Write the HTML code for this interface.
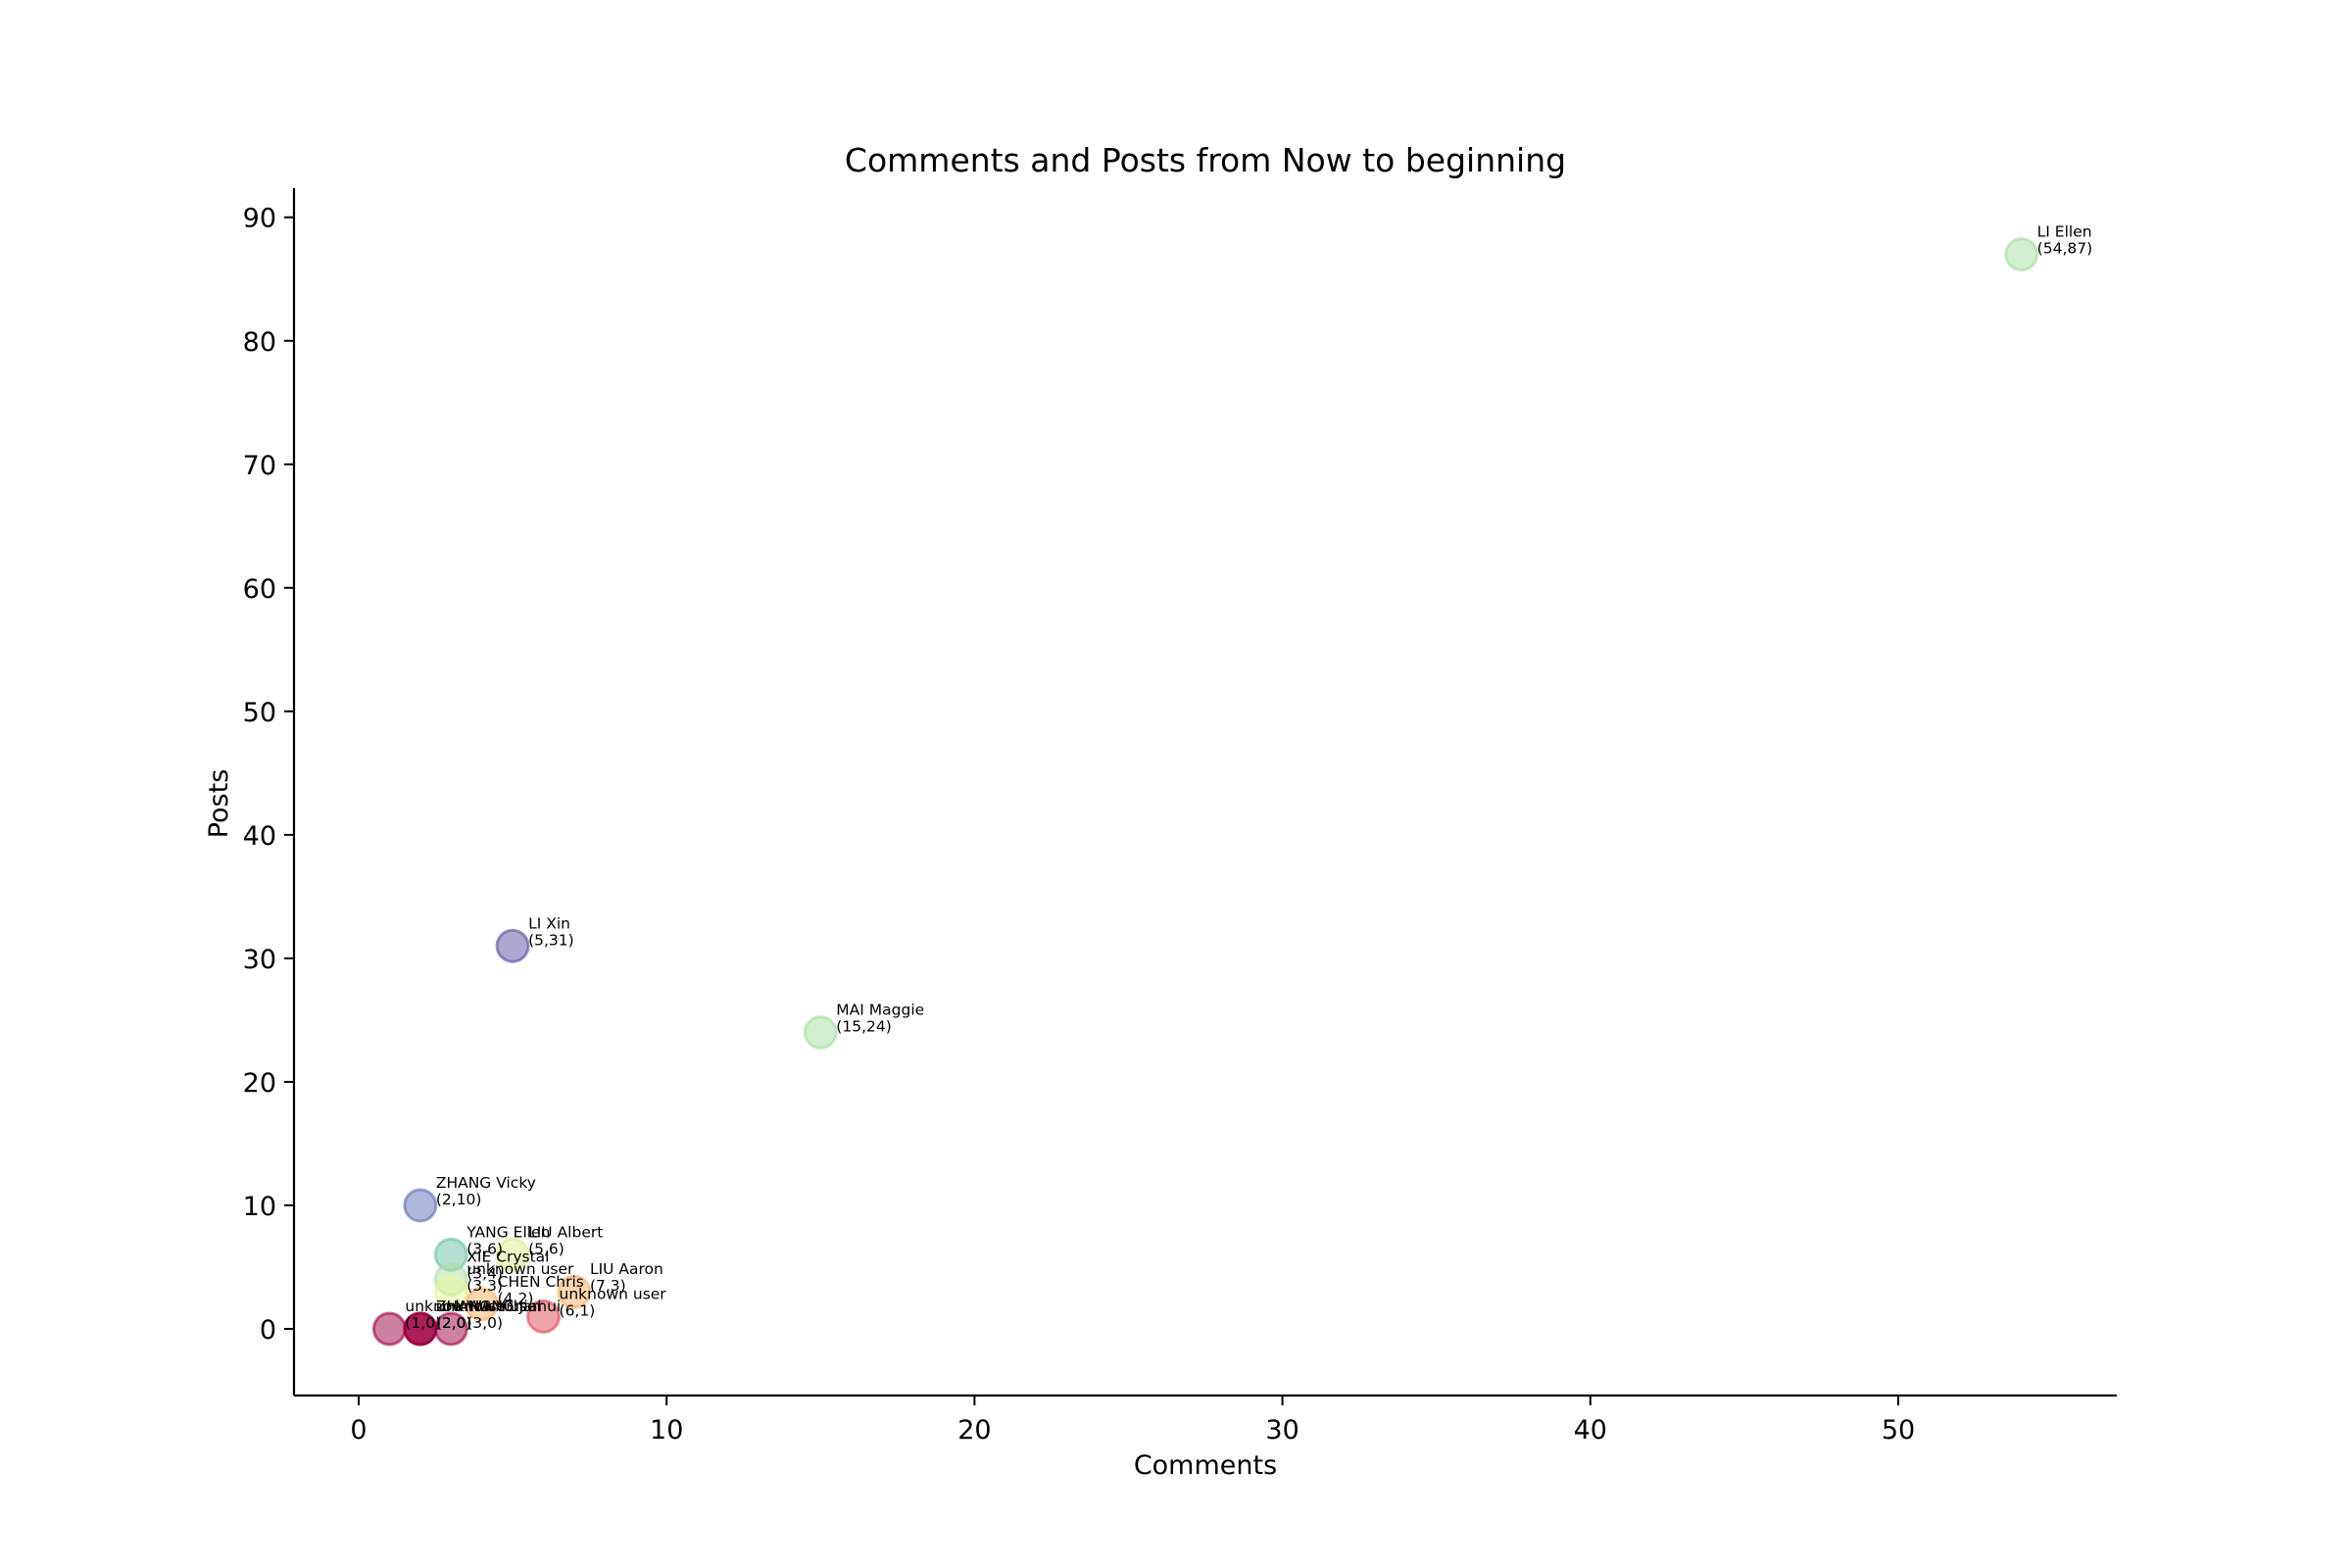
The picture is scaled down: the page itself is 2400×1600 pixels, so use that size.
<!DOCTYPE html>
<html><head><meta charset="utf-8"><style>
html,body{margin:0;padding:0;background:#fff;}
svg{display:block;font-family:"DejaVu Sans","Liberation Sans",sans-serif;}
</style></head><body>
<svg id="chart" width="2400" height="1600" viewBox="0 0 2400 1600" xmlns="http://www.w3.org/2000/svg">
<rect width="2400" height="1600" fill="#fff"/>
<text x="1230" y="175" font-size="33" text-anchor="middle">Comments and Posts from Now to beginning</text>
<text x="1230" y="1504" font-size="27" text-anchor="middle">Comments</text>
<text x="232" y="820" font-size="27" text-anchor="middle" transform="rotate(-90 232 820)">Posts</text>
<g id="axes"></g>
<g id="points"></g>
<g id="labels"></g>
</svg>
<script>
const names = ["LI Ellen","LI Xin","MAI Maggie","ZHANG Vicky","YANG Ellen","LIU Albert","XIE Crystal","unknown user","CHEN Chris","LIU Aaron","unknown user","unknown user","unknown user","ZHANG Yuhan","unknown user","WANG Jiahui"];
const comments = [54,5,15,2,3,5,3,3,4,7,6,1,2,2,2,3];
const posts = [87,31,24,10,6,6,4,3,2,3,1,0,0,0,0,0];
const xTicks = [0,10,20,30,40,50];
const yTicks = [0,10,20,30,40,50,60,70,80,90];
const pointColors = ["#a6dba0","#5e4fa2","#a6dba0","#5e6fb5","#66c2a5","#d9ef8b","#abdda4","#e6f598","#fdae61","#fdae61","#e04a55","#9e0142","#9e0142","#9e0142","#9e0142","#9e0142"];

const NS = "http://www.w3.org/2000/svg";
const L = 300, R = 2160, T = 192, B = 1424;
function xs(v){ return 366 + v * 31.42; }
function ys(v){ return 1356 - v * 12.603; }
function mk(tag, attrs, parent){
  const e = document.createElementNS(NS, tag);
  for (const k in attrs) e.setAttribute(k, attrs[k]);
  parent.appendChild(e);
  return e;
}
const axes = document.getElementById('axes');
const ya = mk('line',{x1:L,y1:T,x2:L,y2:B,stroke:'#000','stroke-width':2.2},axes);


const xa = mk('line',{x1:L,y1:B,x2:R,y2:B,stroke:'#000','stroke-width':2.2},axes);


xTicks.forEach(t=>{
  const x = xs(t);
  const tk = mk('line',{x1:x,y1:B,x2:x,y2:B+10,stroke:'#000','stroke-width':2},axes);
  
  
  const tx = mk('text',{x:x,y:B+44,'font-size':27,'text-anchor':'middle'},axes);
  tx.textContent = t;
  
  
});
yTicks.forEach(t=>{
  const y = ys(t);
  const tk = mk('line',{x1:L-10,y1:y,x2:L,y2:y,stroke:'#000','stroke-width':2},axes);
  
  
  const tx = mk('text',{x:L-18,y:y+10,'font-size':27,'text-anchor':'end'},axes);
  tx.textContent = t;
  
  
});
const pg = document.getElementById('points');
const lg = document.getElementById('labels');
names.forEach((n,i)=>{
  const cx = xs(comments[i]), cy = ys(posts[i]);
  const c = mk('circle',{cx:cx,cy:cy,r:16,fill:pointColors[i],'fill-opacity':0.5,stroke:pointColors[i],'stroke-opacity':0.6,'stroke-width':3},pg);
  
  
  const t1 = mk('text',{x:cx+16,y:cy-18,'font-size':15.5},lg);
  t1.textContent = n;
  
  
  const t2 = mk('text',{x:cx+16,y:cy-1,'font-size':15.5},lg);
  t2.textContent = '(' + comments[i] + ',' + posts[i] + ')';
  
  
});
</script>
</body></html>
